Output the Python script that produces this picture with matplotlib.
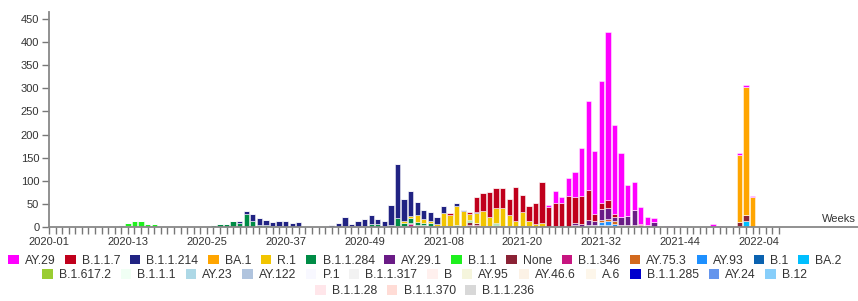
import matplotlib
matplotlib.use('agg')
from matplotlib import pyplot as plt
from matplotlib.patches import Patch
import numpy as np

plt.rcParams['font.family'] = ['Liberation Sans', 'DejaVu Sans']

# weekly counts per lineage (week label -> count)
ay29 = {"2021-24": 4, "2021-25": 27, "2021-26": 12, "2021-27": 37, "2021-28": 55,
        "2021-29": 102, "2021-30": 192, "2021-31": 136, "2021-32": 265, "2021-33": 363,
        "2021-34": 192, "2021-35": 140, "2021-36": 68, "2021-37": 61, "2021-38": 37,
        "2021-39": 18, "2021-40": 9, "2021-42": 1, "2021-43": 2, "2021-44": 2,
        "2021-45": 1, "2021-49": 6, "2021-50": 3, "2022-01": 6, "2022-02": 4, "2022-03": 3}
b117 = {"2020-53": 1, "2021-09": 3, "2021-12": 4, "2021-13": 31, "2021-14": 39,
        "2021-15": 54, "2021-16": 43, "2021-17": 42, "2021-18": 35, "2021-19": 74,
        "2021-20": 37, "2021-21": 34, "2021-22": 45, "2021-23": 89, "2021-24": 44,
        "2021-25": 48, "2021-26": 53, "2021-27": 68, "2021-28": 57, "2021-29": 62,
        "2021-30": 65, "2021-31": 17, "2021-32": 14, "2021-33": 17, "2021-34": 7, "2021-38": 3}
b11214 = {"2020-29": 1, "2020-30": 4, "2020-31": 6, "2020-32": 15, "2020-33": 14,
          "2020-34": 10, "2020-35": 8, "2020-36": 12, "2020-37": 12, "2020-38": 7,
          "2020-39": 10, "2020-44": 3, "2020-45": 8, "2020-46": 20, "2020-47": 4,
          "2020-48": 9, "2020-49": 14, "2020-50": 20, "2020-51": 10, "2020-52": 11,
          "2020-53": 43, "2021-01": 116, "2021-02": 47, "2021-03": 55, "2021-04": 28,
          "2021-05": 20, "2021-06": 18, "2021-07": 15, "2021-08": 15, "2021-10": 6,
          "2021-11": 3, "2021-13": 2}
ba1 = {"2022-01": 144, "2022-02": 278, "2022-03": 64, "2022-05": 1}
r1 = {"2021-02": 5, "2021-03": 5, "2021-04": 17, "2021-05": 8, "2021-06": 6,
      "2021-07": 4, "2021-08": 29, "2021-09": 25, "2021-10": 41, "2021-11": 31,
      "2021-12": 13, "2021-13": 22, "2021-14": 33, "2021-15": 20, "2021-16": 32,
      "2021-17": 40, "2021-18": 24, "2021-19": 12, "2021-20": 30, "2021-21": 10,
      "2021-22": 6, "2021-23": 8}
b11284 = {"2020-26": 5, "2020-27": 7, "2020-28": 7, "2020-29": 12, "2020-30": 8,
          "2020-31": 29, "2020-32": 13, "2020-33": 5, "2020-34": 5, "2020-35": 2,
          "2020-36": 2, "2020-37": 1, "2020-38": 1, "2020-39": 1, "2020-45": 1,
          "2020-46": 2, "2020-49": 3, "2020-50": 7, "2020-51": 7, "2020-52": 3,
          "2020-53": 4, "2021-01": 17, "2021-02": 5, "2021-03": 10, "2021-04": 5,
          "2021-05": 5, "2021-06": 5, "2021-07": 2, "2021-08": 2, "2021-09": 2,
          "2021-10": 4, "2021-11": 3, "2021-12": 3, "2021-15": 2, "2021-16": 2, "2021-18": 2}
ay291 = {"2021-28": 4, "2021-29": 6, "2021-30": 12, "2021-31": 8, "2021-32": 22,
         "2021-33": 25, "2021-34": 10, "2021-35": 16, "2021-36": 19, "2021-37": 32,
         "2021-38": 4, "2021-40": 11, "2021-42": 1}
b11 = {"2020-13": 6, "2020-14": 13, "2020-15": 12, "2020-16": 6, "2020-17": 6,
       "2020-18": 3, "2021-12": 2, "2021-14": 2, "2021-16": 2, "2021-17": 2}
none = {"2020-44": 1, "2020-47": 2, "2020-48": 1, "2021-02": 1, "2021-03": 3,
        "2021-04": 2, "2021-05": 2, "2021-06": 3, "2021-07": 1, "2021-12": 7,
        "2021-13": 4, "2021-16": 3, "2021-20": 2, "2021-21": 2, "2021-28": 4,
        "2021-39": 4, "2022-01": 11, "2022-02": 13}
b1346 = {"2020-48": 2, "2021-01": 3, "2021-02": 2, "2021-03": 6, "2021-04": 3,
         "2021-05": 2, "2021-12": 3, "2021-13": 5}
ay753 = {"2021-32": 5, "2021-33": 5, "2021-34": 5, "2021-35": 3, "2021-36": 4, "2021-37": 4}
ay93 = {"2021-30": 2, "2021-31": 2, "2021-32": 7, "2021-33": 7, "2021-34": 5, "2021-35": 2}
b1 = {"2021-12": 1, "2021-30": 2, "2021-31": 2, "2021-32": 4, "2021-33": 3, "2021-34": 2}
ba2 = {"2022-02": 12}
b16172 = {"2021-25": 3}
ay122 = {"2020-12": 5, "2021-16": 2}
b11285 = {"2020-13": 3, "2020-14": 1}
b12 = {"2021-33": 2}

# legend order (= stacking order from the top)
LINEAGES = [
    ("AY.29", "#ff00ff", ay29), ("B.1.1.7", "#c0001c", b117),
    ("B.1.1.214", "#212383", b11214), ("BA.1", "#ffa500", ba1),
    ("R.1", "#f2c500", r1), ("B.1.1.284", "#008c46", b11284),
    ("AY.29.1", "#6a1b86", ay291), ("B.1.1", "#1ef01e", b11),
    ("None", "#8b2235", none), ("B.1.346", "#c71580", b1346),
    ("AY.75.3", "#d2691e", ay753), ("AY.93", "#1e90ff", ay93),
    ("B.1", "#0a62b0", b1), ("BA.2", "#00bfff", ba2),
    ("B.1.617.2", "#9acd32", b16172), ("B.1.1.1", "#f0fff4", {}),
    ("AY.23", "#add8e6", {}), ("AY.122", "#b0c4de", ay122),
    ("P.1", "#f8f8ff", {}), ("B.1.1.317", "#f2f2f2", {}),
    ("B", "#fff0ee", {}), ("AY.95", "#f5f5dc", {}),
    ("AY.46.6", "#fcf2e6", {}), ("A.6", "#fdf6ea", {}),
    ("B.1.1.285", "#0000cd", b11285), ("AY.24", "#6495ed", {}),
    ("B.12", "#87cefa", b12),
    ("B.1.1.28", "#ffe6ea", {}), ("B.1.1.370", "#ffdcd6", {}),
    ("B.1.1.236", "#d8d8d8", {}),
]


def week_labels():
    labels = []
    for year, n in ((2020, 53), (2021, 52), (2022, 7)):
        labels += ["{}-{:02d}".format(year, w) for w in range(1, n + 1)]
    return labels


def main():
    weeks = week_labels()
    x = np.arange(len(weeks))

    fig = plt.figure(figsize=(8.58, 3.01), dpi=100)
    ax = fig.add_axes([49 / 858, 74 / 301, 809 / 858, 215.3 / 301])

    bottom = np.zeros(len(weeks))
    for name, color, counts in reversed(LINEAGES):
        vals = np.array([counts.get(w, 0) for w in weeks], dtype=float)
        if vals.sum() == 0:
            continue
        ax.bar(x, vals, width=0.8, bottom=bottom.copy(), color=color,
               edgecolor=(1, 1, 1, 0.5), linewidth=0.7)
        bottom += vals

    ax.set_xlim(0, 809 / 6.575)
    ax.set_ylim(0, 466)
    ax.set_xticks(x)
    ax.set_xticklabels([w if i % 12 == 0 else '' for i, w in enumerate(weeks)])
    ax.set_yticks(np.arange(0, 451, 50))
    ax.tick_params(axis='both', length=5, width=1, color='#777', labelsize=8,
                   labelcolor='#333', pad=2)
    for side in ('top', 'right'):
        ax.spines[side].set_visible(False)
    for side in ('left', 'bottom'):
        ax.spines[side].set_color('#888')
        ax.spines[side].set_linewidth(1.3)

    fig.text(856 / 858, 1 - 219 / 301, "Weeks", ha='right', va='center',
             fontsize=8, color='#333')

    # flow-style legend: three centred rows
    rows = [(LINEAGES[0:14], 0.134), (LINEAGES[14:27], 0.086), (LINEAGES[27:], 0.033)]
    for items, ypos in rows:
        handles = [Patch(facecolor=c, edgecolor='none') for _, c, _ in items]
        fig.legend(handles, [n for n, _, _ in items], loc='center',
                   bbox_to_anchor=(0.495, ypos), ncol=len(items), frameon=False,
                   fontsize=8.8, handlelength=0.85, handleheight=0.85,
                   handletextpad=0.5, columnspacing=0.8, borderpad=0,
                   borderaxespad=0, labelcolor='#333')

    fig.savefig('out.png', dpi=100)


if __name__ == "__main__":
    main()
